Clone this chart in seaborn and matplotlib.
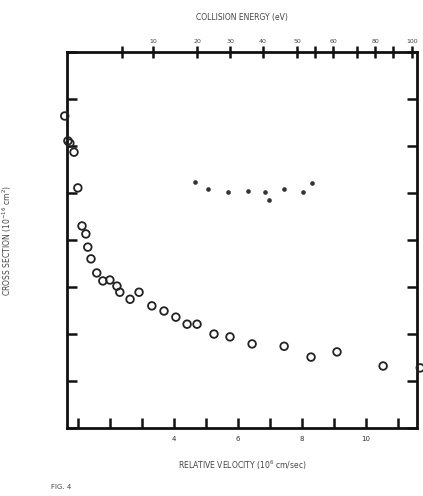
import matplotlib
matplotlib.use("Agg")
import matplotlib.pyplot as plt
import seaborn as sns
import pandas as pd

# open circles (measured points)
vel = [0.59, 0.69, 0.75, 0.88, 1.00, 1.13, 1.25, 1.31, 1.41, 1.59, 1.78, 2.00,
       2.22, 2.31, 2.63, 2.91, 3.31, 3.69, 4.06, 4.41, 4.72, 5.25, 5.75, 6.44,
       7.44, 8.28, 9.09, 10.53, 11.69]
sigma = [6.64, 6.11, 6.06, 5.87, 5.11, 4.30, 4.13, 3.85, 3.60, 3.30, 3.13, 3.15,
         3.02, 2.89, 2.74, 2.89, 2.60, 2.49, 2.36, 2.21, 2.21, 2.00, 1.94, 1.79,
         1.74, 1.51, 1.62, 1.32, 1.28]

# small dots (second series)
vel2 = [4.66, 5.06, 5.69, 6.31, 6.84, 6.97, 7.44, 8.03, 8.31]
sigma2 = [5.23, 5.09, 5.02, 5.04, 5.02, 4.85, 5.09, 5.02, 5.21]

bottom_ticks = [1, 2, 3, 4, 5, 6, 7, 8, 9, 10, 11]
bottom_labels = ["", "", "", "4", "", "6", "", "8", "", "10", ""]
top_major = [3.34, 4.72, 5.75, 6.78, 7.84, 8.97, 10.28, 11.44]
top_major_labels = ["10", "20", "30", "40", "50", "60", "80", "100"]
top_minor = [2.38, 8.41, 9.72, 10.84]
y_ticks = [0, 1, 2, 3, 4, 5, 6, 7, 8]

df = pd.DataFrame({"v": vel, "s": sigma})
df2 = pd.DataFrame({"v": vel2, "s": sigma2})

sns.set_style("white")
plt.rcParams["font.family"] = ["DejaVu Sans"]

fig = plt.figure(figsize=(4.23, 4.96), dpi=100)
ax = fig.add_axes([0.158, 0.137, 0.828, 0.758])

sns.scatterplot(data=df, x="v", y="s", ax=ax, marker="o", s=30,
                facecolor="none", edgecolor="#222222", linewidth=1.3,
                clip_on=False, zorder=3)
sns.scatterplot(data=df2, x="v", y="s", ax=ax, marker="o", s=11,
                color="#333333", linewidth=0, zorder=3)

ax.set_xlim(0.656, 11.59)
ax.set_ylim(0, 8)
ax.set_xticks(bottom_ticks)
ax.set_xticklabels(bottom_labels, fontsize=5, color="#333333")
ax.set_yticks(y_ticks)
ax.set_yticklabels([])
ax.tick_params(axis="both", direction="in", length=7, width=1.8, color="#111111",
               left=True, bottom=True, right=True, pad=6)
ax.tick_params(axis="y", labelleft=False)
ax.set_xlabel("RELATIVE VELOCITY (10$^{6}$ cm/sec)", fontsize=5.5, color="#444444",
              labelpad=12)
ax.set_ylabel("CROSS SECTION (10$^{-16}$ cm$^{2}$)", fontsize=5.5, color="#444444",
              labelpad=38)

for sp in ax.spines.values():
    sp.set_linewidth(2.0)
    sp.set_color("#111111")

top = ax.twiny()
top.set_xlim(ax.get_xlim())
top.set_xticks(top_major)
top.set_xticklabels(top_major_labels, fontsize=4.5, color="#444444")
top.set_xticks(top_minor, minor=True)
top.tick_params(axis="x", which="both", direction="inout", length=9, width=1.8,
                color="#111111", top=True, pad=1)
top.set_xlabel("COLLISION ENERGY (eV)", fontsize=5.5, color="#444444",
               labelpad=14)
for sp in top.spines.values():
    sp.set_visible(False)

fig.text(0.12, 0.015, "FIG. 4", fontsize=5, color="#444444")

fig.savefig("out.png", dpi=100)
plt.close(fig)
